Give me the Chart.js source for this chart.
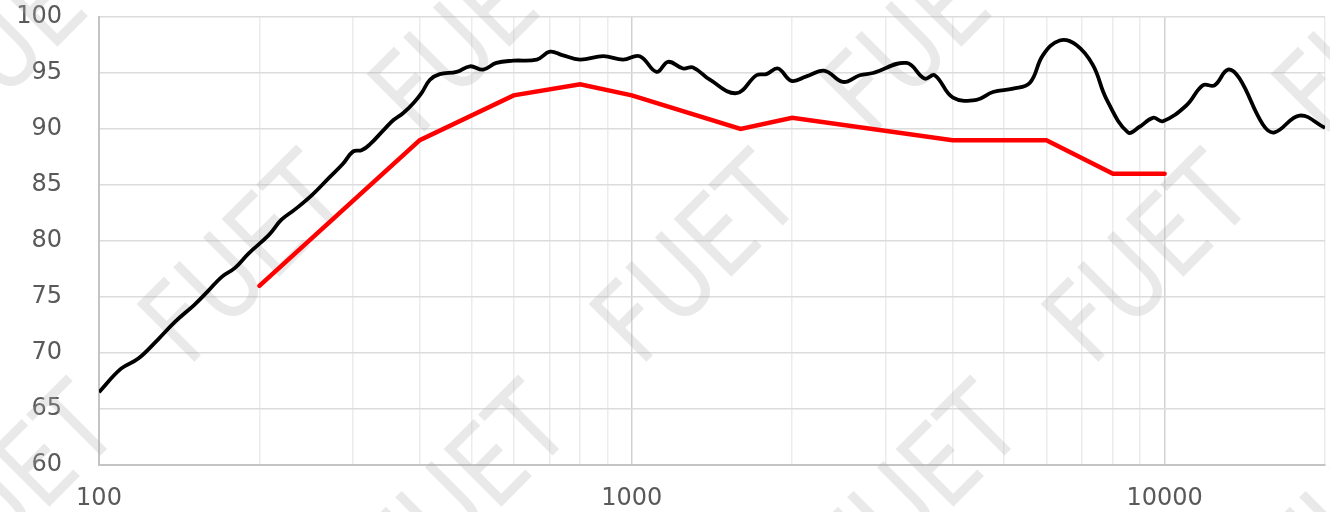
<!DOCTYPE html>
<html>
<head>
<meta charset="utf-8">
<script src="https://cdn.jsdelivr.net/npm/chart.js@4.4.0/dist/chart.umd.js"></script>
<style>
    html, body { margin: 0; padding: 0; background: #ffffff; }
    #wrap { width: 1330px; height: 512px; }
</style>
</head>
<body>
<div id="wrap"><canvas id="chart" width="1330" height="512"></canvas></div>
<script>
// measured response (black)
const respFreq = [100, 110, 118.5, 129, 139, 151, 160, 170, 180, 191, 208, 220, 233, 251, 271, 287, 300, 311, 322, 342,
    357, 372, 389, 403, 418, 436, 469, 497, 526, 557, 599, 663, 702, 740, 799, 884, 963, 1035, 1113, 1170,
    1248, 1303, 1401, 1572, 1714, 1789, 1881, 1994, 2127, 2302, 2491, 2678, 2836, 3277, 3545, 3702, 4007, 4434, 4764, 5194,
    5582, 5912, 6355, 6830, 7337, 7773, 8534, 8975, 9506, 9926, 10983, 11800, 12410, 13150, 13826, 15290, 16082, 17922, 20000];
const respSpl = [66.5, 68.6, 69.5, 71.2, 72.8, 74.3, 75.5, 76.8, 77.6, 78.9, 80.5, 81.9, 82.8, 84.1, 85.7, 86.9, 88.0, 88.1, 88.6, 89.9,
    90.8, 91.4, 92.3, 93.2, 94.4, 94.9, 95.1, 95.6, 95.3, 95.9, 96.1, 96.2, 96.9, 96.6, 96.2, 96.5, 96.2, 96.5, 95.1, 96.0,
    95.4, 95.5, 94.4, 93.2, 94.8, 94.9, 95.4, 94.3, 94.7, 95.2, 94.2, 94.8, 95.0, 95.9, 94.5, 94.8, 92.8, 92.6, 93.3, 93.6,
    94.1, 96.6, 97.9, 97.5, 95.7, 92.7, 89.7, 90.2, 91.0, 90.7, 92.1, 93.9, 93.9, 95.3, 94.5, 90.4, 89.7, 91.2, 90.1];

// limit line (red)
const limitFreq = [200, 400, 600, 800, 1000, 1600, 2000, 4000, 6000, 8000, 10000];
const limitSpl = [76, 89, 93, 94, 93, 90, 91, 89, 89, 86, 86];

// axes
const xTicks = [100, 200, 300, 400, 500, 600, 700, 800, 900, 1000, 2000, 3000, 4000, 5000, 6000, 7000, 8000, 9000, 10000, 20000];
const xLabelled = [100, 1000, 10000];
const yMin = 60, yMax = 100, yStep = 5;

const watermarkText = 'FUET';

const toPoints = (xs, ys) => xs.map((x, i) => ({ x: x, y: ys[i] }));

// diagonal watermark tiles behind the curves
const watermark = {
    id: 'watermark',
    beforeDatasetsDraw(chart) {
        const ctx = chart.ctx;
        ctx.save();
        ctx.fillStyle = 'rgba(175, 175, 175, 0.27)';
        ctx.font = '112px "DejaVu Sans"';
        ctx.textBaseline = 'alphabetic';
        for (let i = -2; i <= 3; i++) {
            for (let j = -2; j <= 2; j++) {
                const x = 640 + 452 * i + 230 * j;
                const y = 368 - 230 * j;
                ctx.save();
                ctx.translate(x, y);
                ctx.rotate(-Math.PI / 4);
                ctx.scale(0.82, 1);
                ctx.fillText(watermarkText, 0, 0);
                ctx.restore();
            }
        }
        ctx.restore();
    }
};

const tickFont = { family: '"DejaVu Sans", sans-serif', size: 24 };

new Chart(document.getElementById('chart'), {
    type: 'line',
    data: {
        datasets: [{
            data: toPoints(respFreq, respSpl),
            borderColor: '#000000',
            borderWidth: 3.8,
            pointRadius: 0,
            tension: 0.4,
            order: 2
        }, {
            data: toPoints(limitFreq, limitSpl),
            borderColor: '#ff0000',
            borderWidth: 4.5,
            pointRadius: 0,
            tension: 0,
            borderCapStyle: 'round',
            order: 1
        }]
    },
    options: {
        responsive: false,
        animation: false,
        layout: { padding: { top: 17, right: 5, left: 0, bottom: 0 } },
        plugins: { legend: { display: false }, tooltip: { enabled: false } },
        scales: {
            x: {
                type: 'logarithmic',
                min: 100,
                max: 20000,
                afterBuildTicks(scale) {
                    scale.ticks = xTicks.map(v => ({ value: v, major: xLabelled.includes(v) }));
                },
                afterFit(scale) {
                    scale.height = 47;
                    scale.paddingLeft = 0;
                    scale.paddingRight = 0;
                },
                ticks: {
                    autoSkip: false,
                    maxRotation: 0,
                    padding: 19,
                    color: '#595959',
                    font: tickFont,
                    callback: (v) => xLabelled.includes(v) ? String(v) : ''
                },
                grid: {
                    drawTicks: false,
                    lineWidth: 1.5,
                    color: (c) => (c.tick && xLabelled.includes(c.tick.value) && c.tick.value !== 100) ? '#d2d2d2' : '#ececec'
                },
                border: { color: '#c4c4c4', width: 2 }
            },
            y: {
                min: yMin,
                max: yMax,
                afterFit(scale) {
                    scale.width = 99;
                    scale.paddingTop = 0;
                    scale.paddingBottom = 0;
                },
                ticks: {
                    stepSize: yStep,
                    padding: 37,
                    color: '#595959',
                    font: tickFont
                },
                grid: { drawTicks: false, color: '#dcdcdc', lineWidth: 1.5 },
                border: { color: '#c4c4c4', width: 2 }
            }
        }
    },
    plugins: [watermark]
});
</script>
</body>
</html>
